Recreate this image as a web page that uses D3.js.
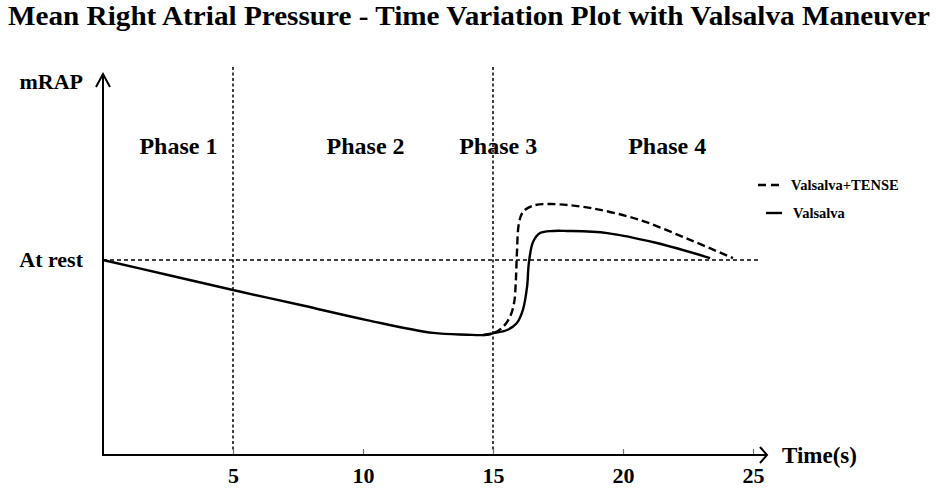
<!DOCTYPE html>
<html>
<head>
<meta charset="utf-8">
<script src="https://cdn.jsdelivr.net/npm/d3@7"></script>
<style>
  body { margin: 0; background: #fff; }
  svg { display: block; }
  text { font-family: "Liberation Serif", "Times New Roman", serif; font-weight: bold; fill: #000; }
</style>
</head>
<body>
<div id="chart"></div>
<script>
// data (time in s, mRAP in arbitrary units, rest = 10)
const restLevel = 10;
const phaseBounds = [5, 15];
const phaseNames = ["Phase 1", "Phase 2", "Phase 3", "Phase 4"];
const phaseCenters = [2.9, 10.1, 15.2, 21.7];
const tickValues = [5, 10, 15, 20, 25];

const valsalvaT = [0, 2.5, 5, 7.6, 10.15, 12.7, 14.0, 14.6, 15.0, 15.54, 15.92, 16.15, 16.31, 16.38, 16.54, 16.81, 17.31, 17.85, 19.4, 21.3, 23.35];
const valsalvaV = [10, 9.23, 8.46, 7.69, 6.92, 6.26, 6.17, 6.15, 6.24, 6.41, 6.77, 7.44, 8.62, 9.85, 10.92, 11.38, 11.49, 11.49, 11.38, 10.87, 10.1];

const tenseT = [14.6, 15.0, 15.38, 15.65, 15.81, 15.88, 15.92, 16.0, 16.15, 16.5, 17.19, 18.73, 20.65, 22.58, 24.23];
const tenseV = [6.15, 6.24, 6.56, 7.08, 7.79, 8.97, 10.36, 11.9, 12.46, 12.77, 12.87, 12.67, 12.05, 11.03, 10.1];

const width = 936, height = 488;

const svg = d3.select("#chart").append("svg")
    .attr("width", width)
    .attr("height", height);

const x = d3.scaleLinear().domain([0, 25]).range([103, 753]);
const y = d3.scaleLinear().domain([0, 10]).range([455, 260]);

// title
svg.append("text")
    .attr("x", 8)
    .attr("y", 25)
    .attr("textLength", 922)
    .attr("lengthAdjust", "spacingAndGlyphs")
    .style("font-size", "27px")
    .text("Mean Right Atrial Pressure - Time Variation Plot with Valsalva Maneuver");

// reference lines
svg.append("line")
    .attr("x1", x(0)).attr("x2", 758)
    .attr("y1", y(restLevel)).attr("y2", y(restLevel))
    .attr("stroke", "#000").attr("stroke-width", 1.5)
    .attr("stroke-dasharray", "4,3");

svg.selectAll(".vline")
    .data(phaseBounds).enter()
    .append("line")
    .attr("class", "vline")
    .attr("x1", d => x(d)).attr("x2", d => x(d))
    .attr("y1", 67).attr("y2", 452)
    .attr("stroke", "#000").attr("stroke-width", 1.5)
    .attr("stroke-dasharray", "3,2.5");

// x axis ticks and labels
const xAxis = d3.axisBottom(x)
    .tickValues(tickValues)
    .tickSizeInner(-6)
    .tickSizeOuter(0)
    .tickPadding(12);

const gx = svg.append("g")
    .attr("transform", `translate(0,${y(0)})`)
    .call(xAxis);
gx.select(".domain").remove();
gx.selectAll(".tick line").attr("stroke", "#4a78d0").attr("stroke-width", 1.2);
gx.selectAll(".tick text")
    .style("font-family", "'Liberation Serif', serif")
    .style("font-weight", "bold")
    .style("font-size", "22px")
    .attr("fill", "#000");

// axes with arrows
svg.append("line")
    .attr("x1", x(0)).attr("x2", 767)
    .attr("y1", y(0)).attr("y2", y(0))
    .attr("stroke", "#000").attr("stroke-width", 2);
svg.append("path")
    .attr("d", `M760,447 L767,${y(0)} L760,463`)
    .attr("fill", "none").attr("stroke", "#000").attr("stroke-width", 2);

svg.append("line")
    .attr("x1", x(0)).attr("x2", x(0))
    .attr("y1", y(0) + 1).attr("y2", 74)
    .attr("stroke", "#000").attr("stroke-width", 2);
svg.append("path")
    .attr("d", `M96,87 L${x(0)},74 L110,87`)
    .attr("fill", "none").attr("stroke", "#000").attr("stroke-width", 2);

svg.append("text")
    .attr("x", 83).attr("y", 89)
    .attr("text-anchor", "end")
    .style("font-size", "22px")
    .text("mRAP");

svg.append("text")
    .attr("x", 83).attr("y", y(restLevel))
    .attr("dy", "0.3em")
    .attr("text-anchor", "end")
    .style("font-size", "22px")
    .text("At rest");

svg.append("text")
    .attr("x", 782).attr("y", 463)
    .style("font-size", "23px")
    .text("Time(s)");

// phase labels
svg.selectAll(".phase")
    .data(phaseNames).enter()
    .append("text")
    .attr("class", "phase")
    .attr("x", (d, i) => x(phaseCenters[i]))
    .attr("y", 154)
    .attr("text-anchor", "middle")
    .style("font-size", "24px")
    .text(d => d);

// curves
const line = d3.line()
    .x(d => x(d[0]))
    .y(d => y(d[1]))
    .curve(d3.curveCatmullRom.alpha(0.5));

svg.append("path")
    .datum(d3.zip(valsalvaT, valsalvaV))
    .attr("d", line)
    .attr("fill", "none")
    .attr("stroke", "#000")
    .attr("stroke-width", 2.4);

svg.append("path")
    .datum(d3.zip(tenseT, tenseV))
    .attr("d", line)
    .attr("fill", "none")
    .attr("stroke", "#000")
    .attr("stroke-width", 2.4)
    .attr("stroke-dasharray", "8,4");

// legend
const legend = svg.append("g");
legend.append("line")
    .attr("x1", 758).attr("x2", 781).attr("y1", 185).attr("y2", 185)
    .attr("stroke", "#000").attr("stroke-width", 2.4)
    .attr("stroke-dasharray", "8,5");
legend.append("text")
    .attr("x", 791).attr("y", 190)
    .style("font-size", "14.5px")
    .text("Valsalva+TENSE");
legend.append("line")
    .attr("x1", 766).attr("x2", 782).attr("y1", 213).attr("y2", 213)
    .attr("stroke", "#000").attr("stroke-width", 2.4);
legend.append("text")
    .attr("x", 793).attr("y", 218)
    .style("font-size", "14.5px")
    .text("Valsalva");
</script>
</body>
</html>
